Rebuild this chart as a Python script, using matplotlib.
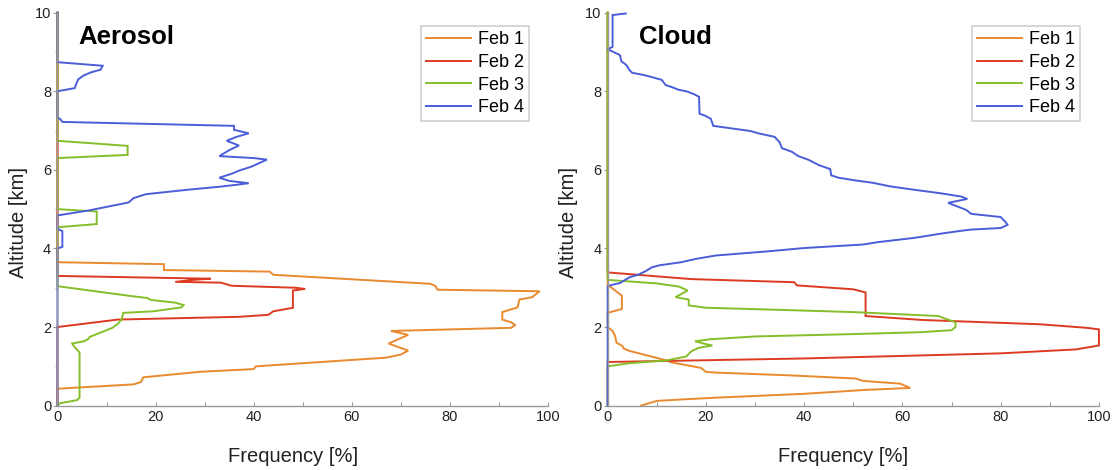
import matplotlib
matplotlib.use("Agg")
import matplotlib.pyplot as plt
from matplotlib.ticker import MultipleLocator

plt.rcParams["font.family"] = ["Liberation Sans", "DejaVu Sans"]

# ---------------- data: frequency [%] vs altitude [km] ----------------
days = ["Feb 1", "Feb 2", "Feb 3", "Feb 4"]
colors = ["#E98A2E", "#DD3A22", "#86BE2A", "#4A5ED8"]

# Aerosol profiles
aer_feb1_freq = [0, 0, 15.5, 17, 17.5, 29, 40, 40.5, 67, 70, 71.5, 67.5, 71.5, 68, 92.5, 93.3,
                 92.5, 90.7, 90.7, 93.8, 94.2, 96.8, 98.3, 77.5, 77, 76, 44, 43.3, 21.7, 21.7, 0, 0]
aer_feb1_alt = [0, 0.43, 0.54, 0.6, 0.72, 0.86, 0.93, 1.0, 1.22, 1.3, 1.4, 1.58, 1.8, 1.9, 1.98, 2.05,
                2.12, 2.19, 2.38, 2.5, 2.7, 2.76, 2.91, 2.95, 3.05, 3.1, 3.33, 3.41, 3.45, 3.6, 3.65, 10]

aer_feb2_freq = [0, 0, 12.3, 37, 43, 44, 48, 48, 50.5, 48.5, 35.5, 33.3, 24, 27.7, 31.2, 0, 0]
aer_feb2_alt = [0, 2.0, 2.19, 2.26, 2.31, 2.4, 2.49, 2.93, 2.97, 3.0, 3.05, 3.13, 3.15, 3.2, 3.23, 3.3, 10]

aer_feb3_freq = [0, 0.5, 4.0, 4.5, 4.5, 3.3, 3.0, 5.5, 6.3, 6.6, 11.2, 12.3, 13.1, 13.4, 19.5, 25.3,
                 25.7, 24, 19, 18.3, 15.5, 9.5, 0, 0, 8, 8, 0, 0, 14.3, 14.3, 0, 0]
aer_feb3_alt = [0, 0.06, 0.14, 0.2, 1.35, 1.52, 1.58, 1.64, 1.7, 1.75, 1.98, 2.08, 2.2, 2.36, 2.4, 2.5,
                2.56, 2.62, 2.69, 2.74, 2.78, 2.88, 3.04, 4.54, 4.62, 4.94, 5.0, 6.3, 6.38, 6.61, 6.74, 10]

aer_feb4_freq = [0, 0, 1, 1, 0, 0, 6.5, 14.5, 15.5, 18, 27, 33, 36.5, 39, 35, 33, 35.5, 37, 39.5,
                 42.7, 40, 33, 35, 37, 34.5, 36.5, 39, 36, 36, 1, 0.5, 0, 0, 3.5, 4.2, 5.3, 6.8,
                 8.8, 9.2, 0, 0]
aer_feb4_alt = [0, 4.0, 4.04, 4.44, 4.5, 4.84, 4.97, 5.17, 5.28, 5.38, 5.5, 5.57, 5.62, 5.66, 5.72,
                5.8, 5.9, 5.98, 6.08, 6.26, 6.3, 6.35, 6.5, 6.62, 6.74, 6.84, 6.93, 7.02, 7.12,
                7.22, 7.3, 7.33, 8.0, 8.08, 8.3, 8.4, 8.48, 8.55, 8.65, 8.74, 10]

# Cloud profiles
cld_feb1_freq = [6.8, 10, 17, 23.5, 40, 52.5, 61.6, 59.5, 55, 52, 50.5, 37, 22, 20, 19, 13, 12, 4.5,
                 3.3, 3.0, 1.8, 1.5, 1.0, 0, 0, 2.9, 2.9, 1.8, 0.8, 0, 0]
cld_feb1_alt = [0, 0.12, 0.17, 0.21, 0.3, 0.4, 0.45, 0.56, 0.6, 0.63, 0.69, 0.77, 0.84, 0.86, 0.96,
                1.1, 1.15, 1.39, 1.45, 1.52, 1.6, 1.78, 1.9, 2.0, 2.36, 2.46, 2.8, 2.9, 3.0, 3.07, 10]

cld_feb2_freq = [0, 0, 40, 80, 95.3, 100, 100, 97.5, 88, 64, 52.5, 52.5, 50, 38.5, 38, 17, 0, 0]
cld_feb2_alt = [0, 1.11, 1.2, 1.33, 1.43, 1.53, 1.94, 1.98, 2.07, 2.18, 2.28, 2.88, 2.96, 3.06, 3.14,
                3.22, 3.39, 10]

cld_feb3_freq = [0, 0, 4.5, 12, 16, 17, 18.5, 21.3, 19.5, 17.8, 21, 30, 50, 64, 70, 70.8, 70.8, 69,
                 67.3, 50, 37, 20, 16.5, 16.5, 13.8, 16.3, 14.5, 10, 0, 0]
cld_feb3_alt = [0, 1.0, 1.08, 1.15, 1.25, 1.38, 1.47, 1.53, 1.58, 1.64, 1.69, 1.76, 1.82, 1.87, 1.92,
                2.0, 2.12, 2.2, 2.28, 2.38, 2.43, 2.49, 2.55, 2.7, 2.76, 2.93, 3.03, 3.11, 3.2, 10]

cld_feb4_freq = [0, 0, 0.8, 2.5, 4.5, 6.2, 7.7, 9.0, 10.5, 15, 17.8, 22, 33, 40, 52, 55, 62.5, 68,
                 72, 74, 80, 81.4, 81, 80, 74, 73, 69.3, 73.2, 72, 68, 62, 57.5, 54, 50.5, 47,
                 45.5, 45.3, 43, 41, 38.8, 37.5, 35.5, 35, 34, 31, 29, 25.5, 21.5, 21, 19.8, 18.7,
                 18.6, 17.5, 16, 14.4, 13.2, 11.8, 11, 9.3, 7.5, 5, 4.5, 3.8, 2.8, 2.5, 1.2, 0,
                 1, 1, 3.7]
cld_feb4_alt = [0, 3.04, 3.07, 3.12, 3.27, 3.33, 3.42, 3.52, 3.57, 3.65, 3.73, 3.82, 3.93, 4.01,
                4.1, 4.16, 4.27, 4.38, 4.45, 4.48, 4.52, 4.6, 4.67, 4.8, 4.88, 4.98, 5.16, 5.26,
                5.32, 5.4, 5.5, 5.58, 5.67, 5.73, 5.8, 5.86, 6.02, 6.12, 6.25, 6.35, 6.46, 6.55,
                6.7, 6.84, 6.92, 6.99, 7.05, 7.12, 7.3, 7.38, 7.43, 7.86, 7.93, 8.0, 8.04, 8.1,
                8.16, 8.29, 8.35, 8.41, 8.47, 8.53, 8.67, 8.76, 8.92, 9.0, 9.07, 9.13, 9.94, 9.98]

panels = [
    ("Aerosol", [(aer_feb1_freq, aer_feb1_alt), (aer_feb2_freq, aer_feb2_alt),
                 (aer_feb3_freq, aer_feb3_alt), (aer_feb4_freq, aer_feb4_alt)]),
    ("Cloud", [(cld_feb1_freq, cld_feb1_alt), (cld_feb2_freq, cld_feb2_alt),
               (cld_feb3_freq, cld_feb3_alt), (cld_feb4_freq, cld_feb4_alt)]),
]

# ---------------- figure ----------------
fig = plt.figure(figsize=(11.16, 4.70), dpi=100)
axes_rects = [[0.0515, 0.137, 0.4395, 0.836], [0.5445, 0.137, 0.4402, 0.836]]
title_x = [0.042, 0.063]
spine_color = "#9a9a9a"

for rect, tx, (name, series) in zip(axes_rects, title_x, panels):
    ax = fig.add_axes(rect)
    for (fr, al), lab, col in zip(series, days, colors):
        ax.plot(fr, al, color=col, lw=1.4, label=lab, clip_on=False, solid_joinstyle="miter")

    ax.set_xlim(0, 100)
    ax.set_ylim(0, 10)
    ax.xaxis.set_major_locator(MultipleLocator(20))
    ax.xaxis.set_minor_locator(MultipleLocator(10))
    ax.yaxis.set_major_locator(MultipleLocator(2))
    ax.yaxis.set_minor_locator(MultipleLocator(1))

    for side in ("top", "right"):
        ax.spines[side].set_visible(False)
    for side in ("left", "bottom"):
        ax.spines[side].set_color(spine_color)
        ax.spines[side].set_linewidth(1.0)

    ax.tick_params(axis="x", which="both", direction="in", length=3, width=0.8,
                   color=spine_color, labelsize=10.5, pad=3, labelcolor="#222222")
    ax.tick_params(axis="y", which="major", direction="out", length=3, width=0.8,
                   color=spine_color, labelsize=10.5, pad=1.5, labelcolor="#222222")
    ax.tick_params(axis="y", which="minor", direction="out", length=1.5, width=0.6,
                   color=spine_color)

    ax.set_xlabel("Frequency [%]", fontsize=14.5, labelpad=17, x=0.48, color="#222222")
    ax.set_ylabel("Altitude [km]", fontsize=14.5, labelpad=5, y=0.467, color="#222222")

    ax.text(tx, 0.921, name, transform=ax.transAxes, fontsize=18.5, fontweight="bold",
            ha="left", va="baseline", color="black")

    leg = ax.legend(loc="upper right", bbox_to_anchor=(0.962, 0.966), borderaxespad=0,
                    fontsize=13, frameon=True, fancybox=False, handlelength=2.5,
                    handletextpad=0.4, labelspacing=0.32, borderpad=0.28)
    leg.get_frame().set_edgecolor("#c4c4c4")
    leg.get_frame().set_linewidth(1.2)

fig.savefig("out.png", dpi=100, facecolor="white")
